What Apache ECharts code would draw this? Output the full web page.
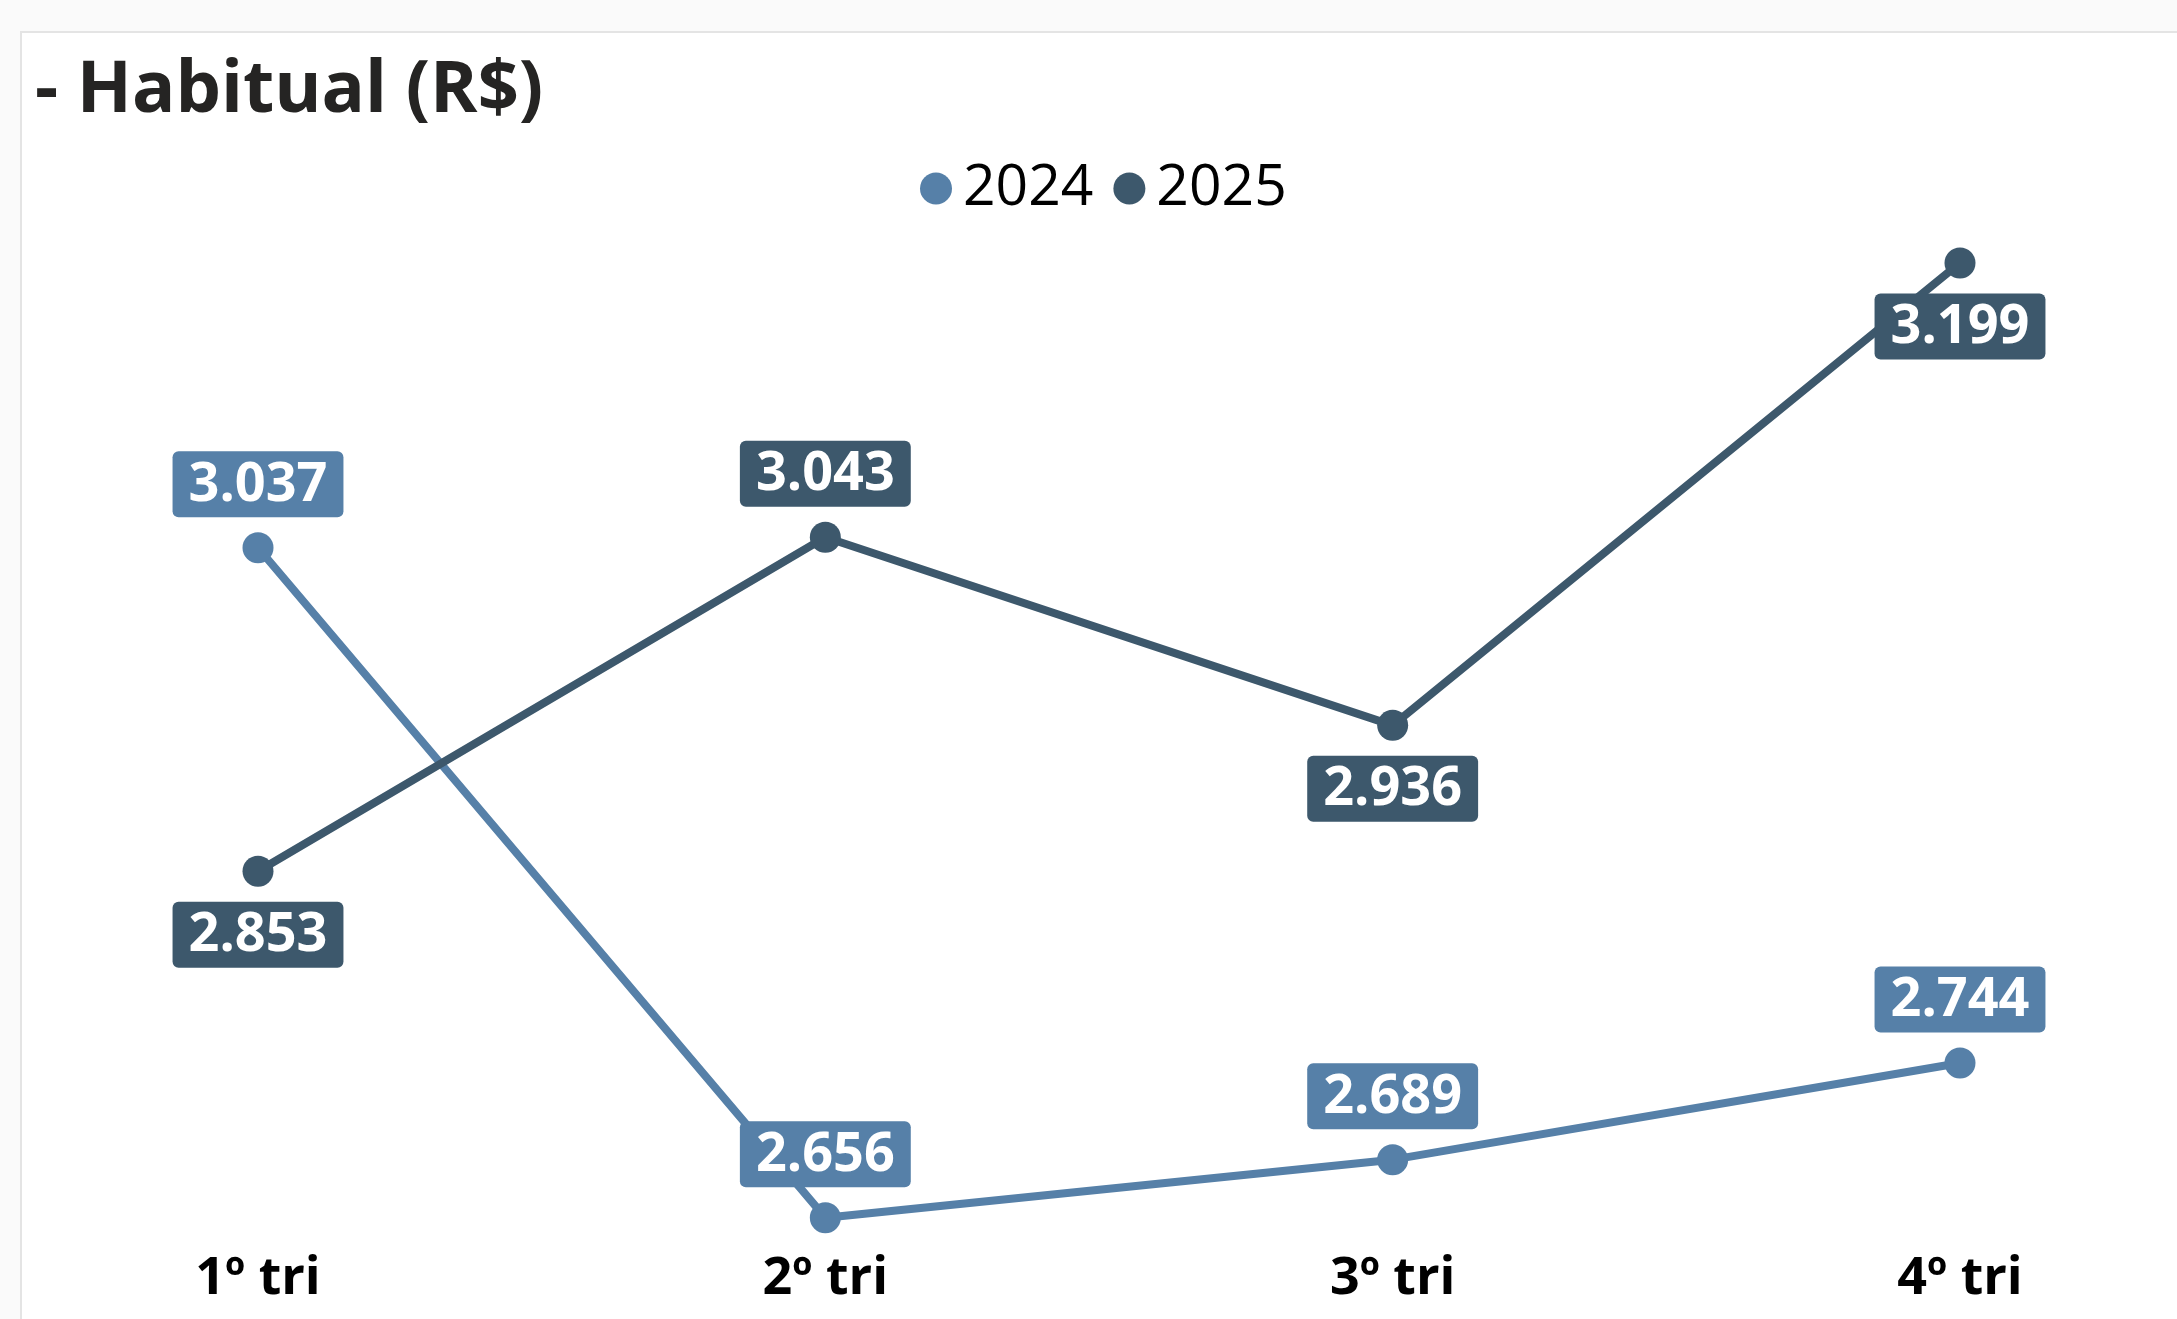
<!DOCTYPE html>
<html>
<head>
<meta charset="utf-8">
<script src="https://cdn.jsdelivr.net/npm/echarts@6/dist/echarts.min.js"></script>
<style>
  html, body { margin: 0; padding: 0; background: #fafafa; }
  #card {
    position: absolute; left: 20px; top: 31px; width: 2200px; height: 1320px;
    background: #ffffff; border: 2px solid #e4e4e4;
  }
  #main { position: absolute; left: 0; top: 0; width: 2177px; height: 1319px; }
</style>
</head>
<body>
<div id="card"></div>
<div id="main"></div>
<script>
// dados
var trimestres = ['1º tri', '2º tri', '3º tri', '4º tri']
var valores2024 = [3.037, 2.656, 2.689, 2.744]
var valores2025 = [2.853, 3.043, 2.936, 3.199]
// posição do rótulo de cada ponto
var pos2024 = ['top', 'top', 'top', 'top']
var pos2025 = ['bottom', 'top', 'bottom', 'bottom']

var cor2024 = '#5680a8'
var cor2025 = '#3d586c'
var fonte = '"Open Sans", "Noto Sans", sans-serif'

function pontos(vals, posicoes) {
  return vals.map(function (v, i) {
    return { value: v, label: { position: posicoes[i] } }
  })
}

function serie(nome, vals, posicoes, cor) {
  return {
    name: nome,
    type: 'line',
    data: pontos(vals, posicoes),
    symbol: 'circle',
    symbolSize: 31,
    lineStyle: { color: cor, width: 8 },
    itemStyle: { color: cor },
    label: {
      show: true,
      distance: 15,
      color: '#ffffff',
      fontFamily: fonte,
      fontWeight: 'bold',
      fontSize: 54,
      lineHeight: 54,
      backgroundColor: cor,
      borderRadius: 6,
      padding: [7, 16, 5, 16],
      formatter: function (p) { return p.value.toFixed(3) }
    }
  }
}

var myChart = echarts.init(document.getElementById('main'))
var option = {
  animation: false,
  title: {
    text: '- Habitual (R$)',
    left: 30,
    top: 50,
    textStyle: { fontFamily: fonte, fontWeight: 'bold', fontSize: 72, color: '#252423' }
  },
  legend: {
    data: ['2024', '2025'],
    left: 920,
    top: 160,
    padding: 0,
    icon: 'circle',
    itemWidth: 32,
    itemHeight: 32,
    itemGap: 20,
    textStyle: { fontFamily: fonte, fontSize: 57, color: '#000000', padding: [0, 0, 0, 6] }
  },
  grid: { left: 258, right: 217, top: 226, bottom: 38 },
  xAxis: {
    type: 'category',
    data: trimestres,
    boundaryGap: false,
    offset: -36,
    axisLine: { show: false },
    axisTick: { show: false },
    axisLabel: { fontFamily: fonte, fontWeight: 'bold', fontSize: 52, color: '#000000', margin: 8 }
  },
  yAxis: {
    type: 'value',
    min: 2.62,
    max: 3.22,
    show: false,
    splitLine: { show: false }
  },
  series: [
    serie('2024', valores2024, pos2024, cor2024),
    serie('2025', valores2025, pos2025, cor2025)
  ]
}
myChart.setOption(option)
</script>
</body>
</html>
